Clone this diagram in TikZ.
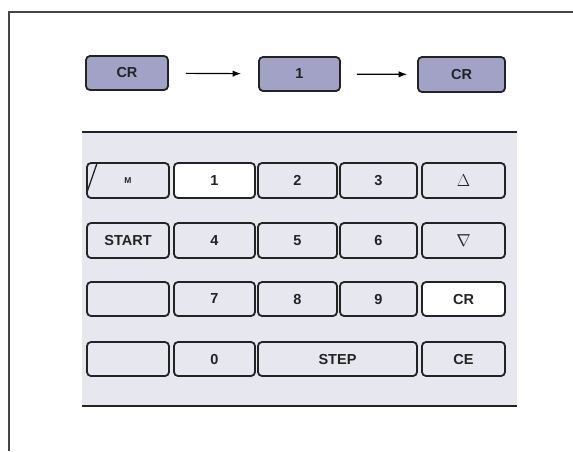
\documentclass[tikz,border=0pt]{standalone}
\usepackage{fontspec}
\usepackage{tikz}
\usetikzlibrary{arrows.meta,calc}
\newfontfamily\keyfont{Liberation Sans}
\definecolor{KeyLav}{HTML}{A2A2C6}
\definecolor{PadGray}{HTML}{E7E7EF}
\definecolor{InkDark}{HTML}{232323}

\begin{document}
\begin{tikzpicture}[x=1pt,y=-1pt,>=Latex,
    topkey/.style={draw=InkDark,line width=1.8pt,rounded corners=4pt,fill=KeyLav,
      minimum width=82pt,minimum height=34pt,text=InkDark,
      font=\keyfont\bfseries\fontsize{14.5}{16}\selectfont},
    padkey/.style={draw=InkDark,line width=1.8pt,rounded corners=4pt,fill=PadGray,
      minimum height=35pt,text=InkDark,
      font=\keyfont\bfseries\fontsize{14.5}{16}\selectfont},
    litkey/.style={padkey,fill=white},
    arrowkey/.style={padkey,font=\fontsize{18}{19}\selectfont}]
  \useasboundingbox (0,0) rectangle (573,451);
  \draw[InkDark!85,line width=1.5pt] (573,12) -- (9,12) -- (9,451);
  % sequence of keys
  \node[topkey] (cra) at (127,73) {CR};
  \node[topkey,minimum width=81pt] (one) at (299.5,74) {1};
  \node[topkey,minimum width=87pt,minimum height=35pt] (crb) at (461.5,74.5) {CR};
  \draw[->,line width=1.2pt,shorten <=17pt,shorten >=17pt] (cra) -- (one);
  \draw[->,line width=1.2pt,shorten <=16pt,shorten >=10pt] (one) -- (crb);
  % keypad
  \fill[PadGray] (82,131) rectangle (517,407);
  \draw[InkDark,line width=2pt] (82,132) -- (517,132);
  \draw[InkDark,line width=2pt] (82,406) -- (517,406);
  \node[padkey,minimum width=82pt,font=\keyfont\bfseries\fontsize{8.5}{9}\selectfont] (m) at (128,180.5) {M};
  \draw[InkDark,line width=1.3pt] ($(m.north west)+(11,1)$) -- ($(m.south west)+(1,-7)$);
  \node[litkey,minimum width=81pt] (k1) at (214.5,180.5) {1};
  \node[padkey,minimum width=79pt] (k2) at (297.5,180.5) {2};
  \node[padkey,minimum width=77pt] (k3) at (378.5,180.5) {3};
  \node[arrowkey,minimum width=83pt] (up) at (463.5,180.5) {$\Delta$};
  \node[padkey,minimum width=82pt] (start) at (128,240.5) {START};
  \node[padkey,minimum width=81pt] (k4) at (214.5,240.5) {4};
  \node[padkey,minimum width=79pt] (k5) at (297.5,240.5) {5};
  \node[padkey,minimum width=77pt] (k6) at (378.5,240.5) {6};
  \node[arrowkey,minimum width=83pt] (down) at (463.5,240.5) {$\nabla$};
  \node[padkey,minimum width=82pt,minimum height=34pt] (blanka) at (128,299) {};
  \node[padkey,minimum width=81pt,minimum height=34pt] (k7) at (214.5,299) {7};
  \node[padkey,minimum width=79pt,minimum height=34pt] (k8) at (297.5,299) {8};
  \node[padkey,minimum width=77pt,minimum height=34pt] (k9) at (378.5,299) {9};
  \node[litkey,minimum width=83pt,minimum height=34pt] (cr) at (463.5,299) {CR};
  \node[padkey,minimum width=82pt,minimum height=34pt] (blankb) at (128,359) {};
  \node[padkey,minimum width=81pt,minimum height=34pt] (k0) at (214.5,359) {0};
  \node[padkey,minimum width=159pt,minimum height=34pt] (step) at (337.5,359) {STEP};
  \node[padkey,minimum width=83pt,minimum height=34pt] (ce) at (463.5,359) {CE};
\end{tikzpicture}
\end{document}
